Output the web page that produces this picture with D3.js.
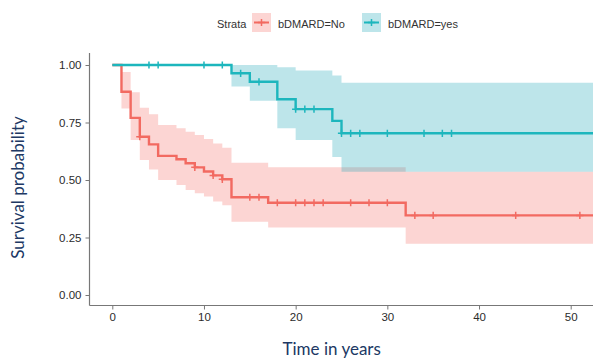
<!DOCTYPE html>
<html>
<head>
<meta charset="utf-8">
<script src="https://cdn.jsdelivr.net/npm/d3@7"></script>
<style>
  body { margin: 0; background: #fff; }
  svg { display: block; }
</style>
</head>
<body>
<div id="chart"></div>
<script>
// Kaplan-Meier steps
const noTimes  = [0, 1, 2, 3, 4, 5, 7, 8, 9, 10, 11, 12, 13, 17, 32];
const noSurv   = [1, 0.884, 0.770, 0.688, 0.655, 0.605, 0.590, 0.573, 0.555, 0.537, 0.520, 0.503, 0.425, 0.401, 0.346];
const noUpper  = [1, 0.970, 0.881, 0.814, 0.786, 0.739, 0.725, 0.710, 0.696, 0.678, 0.659, 0.640, 0.575, 0.555, 0.536];
const noLower  = [1, 0.811, 0.674, 0.587, 0.546, 0.500, 0.478, 0.457, 0.442, 0.428, 0.406, 0.390, 0.318, 0.294, 0.223];
const noCensor = [3, 9, 11, 12, 15, 16, 18, 20, 21, 22, 23, 26, 28, 30, 33, 35, 44, 51];

const yesTimes  = [0, 13, 15, 18, 20, 24, 25];
const yesSurv   = [1, 0.964, 0.927, 0.851, 0.808, 0.757, 0.703];
const yesUpper  = [1, 1, 1, 0.990, 0.976, 0.954, 0.923];
const yesLower  = [1, 0.906, 0.845, 0.725, 0.674, 0.600, 0.536];
const yesCensor = [4, 5, 10, 12, 14, 16, 20, 21, 22, 25, 26, 27, 30, 34, 36, 37];

const lastTime = 55;
const xTicks = [0, 10, 20, 30, 40, 50];
const yTicks = [0, 0.25, 0.5, 0.75, 1];

const strata = [
  {name: "bDMARD=No", times: noTimes, surv: noSurv, upper: noUpper, lower: noLower,
   censor: noCensor, line: "#f26a61", fill: "#f5736c", alpha: 0.3},
  {name: "bDMARD=yes", times: yesTimes, surv: yesSurv, upper: yesUpper, lower: yesLower,
   censor: yesCensor, line: "#1db6bd", fill: "#24a9b8", alpha: 0.3}
];

const W = 593, H = 358;
const panel = {left: 89.5, top: 53, right: 593, bottom: 305.5};

var svg = d3.select("#chart").append("svg")
  .attr("width", W).attr("height", H);

var x = d3.scaleLinear().domain([0, 50]).range([112.3, 570.7]);
var y = d3.scaleLinear().domain([0, 1]).range([295, 65]);

// turn the arrays into step rows, carried on to the right edge
strata.forEach(function(s) {
  s.rows = s.times.map((t, i) => ({t: t, s: s.surv[i], lo: s.lower[i], hi: s.upper[i]}));
  var last = s.rows[s.rows.length - 1];
  s.rows.push({t: lastTime, s: last.s, lo: last.lo, hi: last.hi});
  s.at = function(t) {
    var v = s.rows[0];
    s.rows.forEach(r => { if (r.t <= t) v = r; });
    return v.s;
  };
});

var area = d3.area().curve(d3.curveStepAfter)
  .x(d => x(d.t)).y0(d => y(d.lo)).y1(d => y(d.hi));
var line = d3.line().curve(d3.curveStepAfter)
  .x(d => x(d.t)).y(d => y(d.s));

// confidence bands
svg.append("g").selectAll("path")
  .data(strata).enter().append("path")
  .attr("d", s => area(s.rows))
  .attr("fill", s => s.fill)
  .attr("fill-opacity", s => s.alpha);

// survival curves
svg.append("g").selectAll("path")
  .data(strata).enter().append("path")
  .attr("d", s => line(s.rows))
  .attr("fill", "none")
  .attr("stroke", s => s.line)
  .attr("stroke-width", 2.4);

// censor marks
function plus(g, cx, cy, col, r) {
  g.append("path")
    .attr("d", "M" + (cx - r) + "," + cy + "H" + (cx + r) + "M" + cx + "," + (cy - r) + "V" + (cy + r))
    .attr("stroke", col).attr("stroke-width", 1.5).attr("fill", "none");
}
strata.forEach(function(s) {
  var g = svg.append("g");
  s.censor.forEach(t => plus(g, x(t), y(s.at(t)), s.line, 3.6));
});

// axes
var axisCol = "#777";
var yAxis = svg.append("g")
  .attr("transform", "translate(" + panel.left + ",0)")
  .call(d3.axisLeft(y).tickValues(yTicks).tickFormat(d3.format(".2f")).tickSize(4).tickPadding(4));
var xAxis = svg.append("g")
  .attr("transform", "translate(0," + panel.bottom + ")")
  .call(d3.axisBottom(x).tickValues(xTicks).tickSize(4).tickPadding(3));
[yAxis, xAxis].forEach(function(a) {
  a.select(".domain").remove();
  a.selectAll(".tick line").attr("stroke", axisCol);
  a.selectAll(".tick text")
    .attr("fill", "#2b2b2b")
    .style("font-family", "'Liberation Sans', Arial, sans-serif")
    .style("font-size", "11.5px");
});
svg.append("line")
  .attr("x1", panel.left).attr("x2", panel.left)
  .attr("y1", panel.top).attr("y2", panel.bottom)
  .attr("stroke", axisCol).attr("stroke-width", 1.2);
svg.append("line")
  .attr("x1", panel.left).attr("x2", panel.right)
  .attr("y1", panel.bottom).attr("y2", panel.bottom)
  .attr("stroke", axisCol).attr("stroke-width", 1.2);

// axis titles
svg.append("text")
  .attr("transform", "translate(24,187.5) rotate(-90)")
  .attr("text-anchor", "middle")
  .attr("fill", "#203864")
  .style("font-family", "Lato, sans-serif")
  .style("font-size", "17px")
  .text("Survival probability");
svg.append("text")
  .attr("x", 331.7).attr("y", 355)
  .attr("text-anchor", "middle")
  .attr("fill", "#203864")
  .style("font-family", "Lato, sans-serif")
  .style("font-size", "17px")
  .text("Time in years");

// legend
var legend = svg.append("g")
  .style("font-family", "'Liberation Sans', Arial, sans-serif")
  .style("font-size", "11px");
legend.append("text")
  .attr("x", 217).attr("y", 28)
  .attr("fill", "#333")
  .text("Strata");
var keyX = [252, 362];
strata.forEach(function(s, i) {
  var k = legend.append("g").attr("transform", "translate(" + keyX[i] + ",13)");
  k.append("rect").attr("width", 19).attr("height", 19)
    .attr("fill", s.fill).attr("fill-opacity", s.alpha);
  k.append("line").attr("x1", 2).attr("x2", 17).attr("y1", 9.5).attr("y2", 9.5)
    .attr("stroke", s.line).attr("stroke-width", 2);
  plus(k, 9.5, 9.5, s.line, 3.6);
  legend.append("text")
    .attr("x", keyX[i] + 26).attr("y", 28)
    .attr("fill", "#333")
    .text(s.name);
});
</script>
</body>
</html>
